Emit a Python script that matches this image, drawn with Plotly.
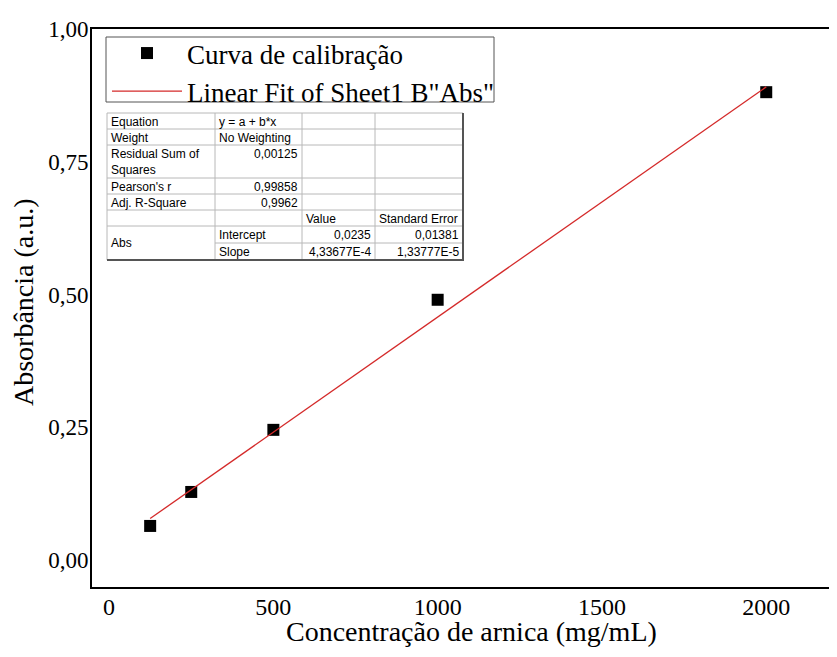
import plotly.graph_objects as go

# calibration points
conc = [125, 250, 500, 1000, 2000]
absorb = [0.064, 0.128, 0.245, 0.490, 0.881]

# linear fit drawn across the data span
fit_x = [125, 2000]
fit_y = [0.078, 0.891]

x_ticks = [0, 500, 1000, 1500, 2000]
y_ticks = [0.0, 0.25, 0.5, 0.75, 1.0]

x_title = "Concentração de arnica (mg/mL)"
y_title = "Absorbância (a.u.)"

# fit summary table (Origin style)
table_rows = [
    ["Equation", "y = a + b*x", "", ""],
    ["Weight", "No Weighting", "", ""],
    ["Residual Sum of<br>Squares", "0,00125", "", ""],
    ["Pearson's r", "0,99858", "", ""],
    ["Adj. R-Square", "0,9962", "", ""],
    ["", "", "Value", "Standard Error"],
    ["", "Intercept", "0,0235", "0,01381"],
    ["", "Slope", "4,33677E-4", "1,33777E-5"],
]
merged_label = "Abs"

# page body adds an 8px margin; keep the figure small enough to avoid scrollbars
OFF = 8
W, H = 837 - 2 * OFF, 657 - 2 * OFF
LEFT, TOP, BOTTOM, RIGHT = 92, 29, 587, 837 - OFF  # plot box in window pixels
ML, MT = LEFT - OFF, TOP - OFF
MR, MB = W - (RIGHT - OFF), H - (BOTTOM - OFF)
PW, PH = W - ML - MR, H - MT - MB


def px_x(px):
    # window pixel -> paper coordinate
    return (px - LEFT) / PW


def px_y(py):
    return (BOTTOM - py) / PH


fig = go.Figure()
fig.add_trace(
    go.Scatter(
        x=conc,
        y=absorb,
        mode="markers",
        name="Curva de calibração",
        marker=dict(symbol="square", size=12, color="black"),
    )
)
fig.add_trace(
    go.Scatter(
        x=fit_x,
        y=fit_y,
        mode="lines",
        name='Linear Fit of Sheet1 B"Abs"',
        line=dict(color="#d42a2a", width=1.3),
    )
)

# legend frame
shapes = [dict(type="rect", xref="paper", yref="paper",
               x0=px_x(106), x1=px_x(494), y0=px_y(37), y1=px_y(102),
               line=dict(color="#555555", width=1), fillcolor="white", layer="above")]

# table geometry in pixels
col_edges = [107, 215, 302, 375, 463]
row_edges = [113, 129, 145, 178, 194, 210, 226, 243, 260]
grid = "#b8b8b8"
annotations = []
for i, y in enumerate(row_edges[1:-1], start=1):
    x0 = col_edges[1] if i == 7 else col_edges[0]
    shapes.append(dict(type="line", xref="paper", yref="paper",
                       x0=px_x(x0), x1=px_x(col_edges[-1]), y0=px_y(y), y1=px_y(y),
                       line=dict(color=grid, width=1)))
for x in col_edges[1:-1]:
    shapes.append(dict(type="line", xref="paper", yref="paper",
                       x0=px_x(x), x1=px_x(x), y0=px_y(row_edges[0]), y1=px_y(row_edges[-1]),
                       line=dict(color=grid, width=1)))
# outer border: light top/left, dark shadow bottom/right
shapes.append(dict(type="line", xref="paper", yref="paper",
                   x0=px_x(col_edges[0]), x1=px_x(col_edges[-1]),
                   y0=px_y(row_edges[0]), y1=px_y(row_edges[0]),
                   line=dict(color=grid, width=1)))
shapes.append(dict(type="line", xref="paper", yref="paper",
                   x0=px_x(col_edges[0]), x1=px_x(col_edges[0]),
                   y0=px_y(row_edges[0]), y1=px_y(row_edges[-1]),
                   line=dict(color=grid, width=1)))
shapes.append(dict(type="line", xref="paper", yref="paper",
                   x0=px_x(col_edges[0]), x1=px_x(col_edges[-1] + 1),
                   y0=px_y(row_edges[-1]), y1=px_y(row_edges[-1]),
                   line=dict(color="#555555", width=2)))
shapes.append(dict(type="line", xref="paper", yref="paper",
                   x0=px_x(col_edges[-1]), x1=px_x(col_edges[-1]),
                   y0=px_y(row_edges[0]), y1=px_y(row_edges[-1]),
                   line=dict(color="#555555", width=2)))

cell_font = dict(family="Liberation Sans, Arial", size=12, color="black")
for r, row in enumerate(table_rows):
    for c, txt in enumerate(row):
        if not txt:
            continue
        right = txt[0].isdigit()
        xpx = col_edges[c + 1] - 3 if right else col_edges[c] + 3
        annotations.append(dict(
            text=txt, xref="paper", yref="paper", showarrow=False,
            x=px_x(xpx), y=px_y(row_edges[r] + 1),
            xanchor="right" if right else "left", yanchor="top",
            align="left", font=cell_font, borderpad=0,
        ))
annotations.append(dict(
    text=merged_label, xref="paper", yref="paper", showarrow=False,
    x=px_x(col_edges[0] + 3), y=px_y((row_edges[6] + row_edges[8]) / 2),
    xanchor="left", yanchor="middle", font=cell_font, borderpad=0,
))

serif = "Liberation Serif, Times New Roman, serif"

# axis titles placed as annotations (axis title standoff is ignored without automargin)
annotations.append(dict(
    text=x_title, xref="paper", yref="paper", showarrow=False,
    x=px_x(471), y=px_y(648), xanchor="center", yanchor="bottom",
    font=dict(family=serif, size=28, color="black"), borderpad=0,
))
annotations.append(dict(
    text=y_title, xref="paper", yref="paper", showarrow=False, textangle=-90,
    x=px_x(23), y=px_y(302), xanchor="center", yanchor="middle",
    font=dict(family=serif, size=28, color="black"), borderpad=0,
))

fig.update_layout(
    width=W,
    height=H,
    margin=dict(l=ML, r=MR, t=MT, b=MB, autoexpand=False),
    paper_bgcolor="white",
    plot_bgcolor="white",
    separators=",.",
    font=dict(family=serif, color="black"),
    showlegend=True,
    legend=dict(
        x=px_x(107), y=px_y(29), xanchor="left", yanchor="top",
        borderwidth=0, bgcolor="rgba(0,0,0,0)",
        font=dict(family=serif, size=27, color="black"),
        itemwidth=70, tracegroupgap=0,
    ),
    shapes=shapes,
    annotations=annotations,
)
fig.update_xaxes(
    range=[-52, 2191],
    tickvals=x_ticks,
    tickformat="d",
    automargin=False,
    showgrid=False,
    zeroline=False,
    showline=True,
    mirror=True,
    linecolor="black",
    linewidth=2,
    ticks="",
    ticklabelstandoff=-3,
    tickfont=dict(family=serif, size=24, color="black"),
)
fig.update_yaxes(
    range=[-0.051, 1.0],
    tickvals=y_ticks,
    tickformat=".2f",
    automargin=False,
    showgrid=False,
    zeroline=False,
    showline=True,
    linecolor="black",
    linewidth=2,
    ticks="",
    ticklabelstandoff=-3,
    tickfont=dict(family=serif, size=23, color="black"),
)

fig.write_html("out.html")
